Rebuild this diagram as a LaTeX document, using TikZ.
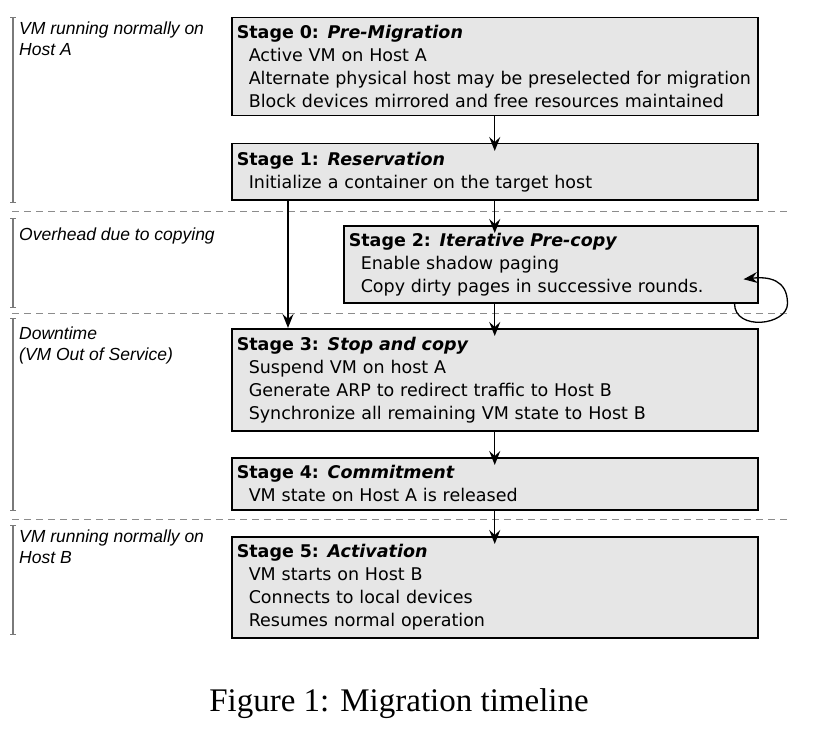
\documentclass[tikz,border=0pt]{standalone}
\usepackage{fontspec}
\setmainfont{DejaVu Sans}
\newfontfamily\phasefont{Liberation Sans}
\newfontfamily\capfont{Liberation Serif}
\usetikzlibrary{arrows.meta}
\definecolor{boxgray}{HTML}{E6E6E6}
\definecolor{bargray}{HTML}{7A7A7A}
\definecolor{sepgray}{HTML}{8C8C8C}
\newcommand{\detail}[1]{\hspace*{12pt}#1}

\begin{document}
\begin{tikzpicture}[x=1pt, y=-1pt,
    stage/.style={draw=black, fill=boxgray, line width=1.5pt, anchor=north west,
                  inner xsep=5pt, inner ysep=0pt, align=left,
                  font=\fontsize{17.5pt}{23pt}\selectfont},
    arrow/.style={draw=black, line width=1.3pt, -{Stealth[length=14pt,width=11pt,inset=5pt]}},
    into/.style={arrow, shorten >=-8pt},
    divider/.style={draw=sepgray, line width=1pt, dash pattern=on 7pt off 5pt},
    timebar/.style={draw=bargray, line width=1.5pt, {Bar[width=6pt,line width=1pt]}-{Bar[width=6pt,line width=1pt]}},
    phase/.style={anchor=north west, inner sep=0pt, align=left,
                  font=\phasefont\itshape\fontsize{17.5pt}{21pt}\selectfont},
]
\useasboundingbox (0,0) rectangle (827,733);

% Timeline on the left
\draw[timebar] (13,17) -- (13,203);
\draw[timebar] (13,218) -- (13,308);
\draw[timebar] (13,318) -- (13,511);
\draw[timebar] (13,525) -- (13,635);

\node[phase] (hosta) at (19,21.5) {VM running normally on\\Host A};
\node[phase] (copying) at (19,227.5) {Overhead due to copying};
\node[phase] (downtime) at (19,326.5) {Downtime\\(VM Out of Service)};
\node[phase] (hostb) at (19,529.5) {VM running normally on\\Host B};

% Phase borders
\draw[divider] (12,211) -- (788,211);
\draw[divider] (12,313) -- (788,313);
\draw[divider] (12,519) -- (788,519);

% Stage 0
\node[stage, text width=516pt, minimum height=98pt] (s0) at (231,17) {
    \textbf{Stage 0: \textit{Pre-Migration}}\\
    \detail{Active VM on Host A}\\
    \detail{Alternate physical host may be preselected for migration}\\
    \detail{Block devices mirrored and free resources maintained}
};

% Stage 1
\node[stage, text width=516pt, minimum height=56pt] (s1) at (231,143) {
    \textbf{Stage 1: \textit{Reservation}}\\
    \detail{Initialize a container on the target host}
};

% Stage 2
\node[stage, text width=404pt, minimum height=77pt] (s2) at (343,225) {
    \textbf{Stage 2: \textit{Iterative Pre-copy}}\\
    \detail{Enable shadow paging}\\
    \detail{Copy dirty pages in successive rounds.}
};

% Stage 3
\node[stage, text width=516pt, minimum height=102pt] (s3) at (231,328) {
    \textbf{Stage 3: \textit{Stop and copy}}\\
    \detail{Suspend VM on host A}\\
    \detail{Generate ARP to redirect traffic to Host B}\\
    \detail{Synchronize all remaining VM state to Host B}
};

% Stage 4
\node[stage, text width=516pt, minimum height=52pt] (s4) at (231,457) {
    \textbf{Stage 4: \textit{Commitment}}\\
    \detail{VM state on Host A is released}
};

% Stage 5
\node[stage, text width=516pt, minimum height=101pt] (s5) at (231,536) {
    \textbf{Stage 5: \textit{Activation}}\\
    \detail{VM starts on Host B}\\
    \detail{Connects to local devices}\\
    \detail{Resumes normal operation}
};

% Arrows
\draw[into] (s0) -- (s1);
\draw[into] (s1.south) -- (s1.south |- s2.north);
\draw[into] (s3.north |- s2.south) -- (s3.north);
\draw[into] (s3) -- (s4);
\draw[into] (s4) -- (s5);
\draw[arrow] ([xshift=57pt]s1.south west) -- ([xshift=57pt]s3.north west);

% Pre-copy rounds
\coordinate (loopout) at ([xshift=-24pt]s2.south east);
\coordinate (loopturn) at ([xshift=29pt]s2.south east);
\coordinate (loopin) at ([xshift=-15pt,yshift=-15pt]s2.east);
\draw[arrow] (loopout) .. controls +(0,28) and +(0,22) .. (loopturn)
    .. controls +(0,-24) and +(25,-3) .. (loopin);

% Caption
\node[font=\capfont\fontsize{33pt}{40pt}\selectfont, anchor=base] (caption) at (399,711) {Figure 1: Migration timeline};

\end{tikzpicture}
\end{document}
